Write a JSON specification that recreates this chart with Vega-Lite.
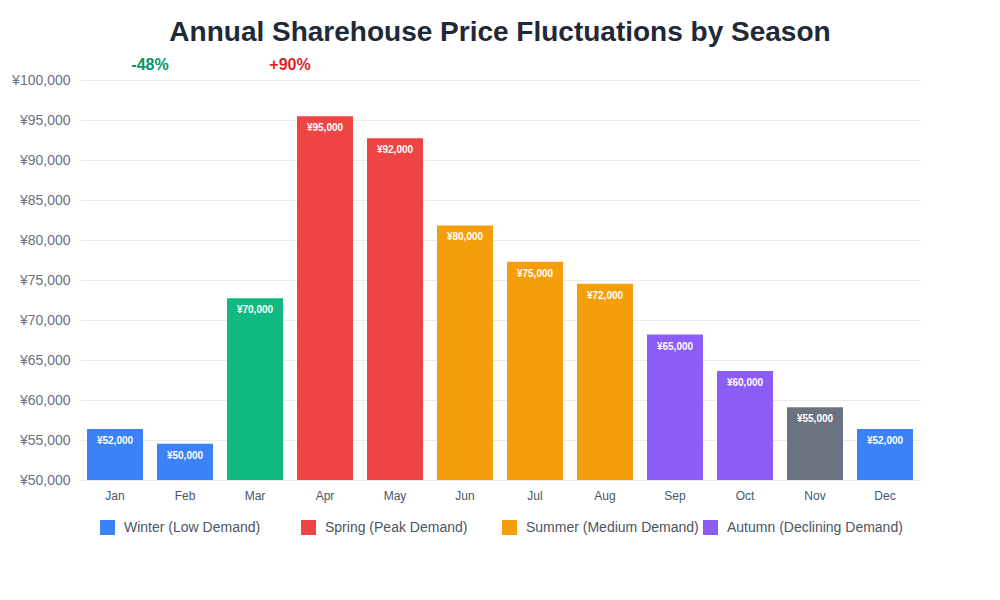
{
  "$schema": "https://vega.github.io/schema/vega-lite/v6.json",
  "width": 840,
  "height": 400,
  "autosize": {"type": "none"},
  "padding": {"left": 80, "top": 80, "right": 80, "bottom": 120},
  "background": "white",
  "title": {
    "text": "Annual Sharehouse Price Fluctuations by Season",
    "fontSize": 28,
    "fontWeight": "bold",
    "color": "#1f2937",
    "font": "Liberation Sans",
    "anchor": "middle",
    "offset": 10
  },
  "config": {"font": "Liberation Sans", "view": {"stroke": null}},
  "datasets": {
    "prices": [
      {"month": "Jan", "price": 52000, "label": "¥52,000", "season": "Winter (Low Demand)"},
      {"month": "Feb", "price": 50000, "label": "¥50,000", "season": "Winter (Low Demand)"},
      {"month": "Mar", "price": 70000, "label": "¥70,000", "season": "Transition (March)"},
      {"month": "Apr", "price": 95000, "label": "¥95,000", "season": "Spring (Peak Demand)"},
      {"month": "May", "price": 92000, "label": "¥92,000", "season": "Spring (Peak Demand)"},
      {"month": "Jun", "price": 80000, "label": "¥80,000", "season": "Summer (Medium Demand)"},
      {"month": "Jul", "price": 75000, "label": "¥75,000", "season": "Summer (Medium Demand)"},
      {"month": "Aug", "price": 72000, "label": "¥72,000", "season": "Summer (Medium Demand)"},
      {"month": "Sep", "price": 65000, "label": "¥65,000", "season": "Autumn (Declining Demand)"},
      {"month": "Oct", "price": 60000, "label": "¥60,000", "season": "Autumn (Declining Demand)"},
      {"month": "Nov", "price": 55000, "label": "¥55,000", "season": "Transition (November)"},
      {"month": "Dec", "price": 52000, "label": "¥52,000", "season": "Winter (Low Demand)"}
    ],
    "annotations": [
      {"month": "Jan", "note": "-48%"},
      {"month": "Mar", "note": "+90%"}
    ]
  },
  "layer": [
    {
      "data": {"name": "annotations"},
      "mark": {"type": "text", "fontSize": 16, "fontWeight": "bold", "baseline": "middle", "dy": 1},
      "encoding": {
        "x": {
          "field": "month",
          "type": "nominal",
          "sort": ["Jan", "Feb", "Mar", "Apr", "May", "Jun", "Jul", "Aug", "Sep", "Oct", "Nov", "Dec"],
          "bandPosition": 1.125,
          "scale": {"paddingInner": 0.2, "paddingOuter": 0.1},
          "axis": {
            "title": null,
            "domain": false,
            "ticks": false,
            "labelAngle": 0,
            "labelFontSize": 12,
            "labelColor": "#4b5563",
            "labelPadding": 10
          }
        },
        "y": {
          "datum": 102000,
          "type": "quantitative",
          "scale": {"domain": [50000, 100000], "zero": false, "nice": false},
          "axis": {
            "title": null,
            "values": [50000, 55000, 60000, 65000, 70000, 75000, 80000, 85000, 90000, 95000, 100000],
            "labelExpr": "'¥' + format(datum.value, ',')",
            "domain": false,
            "ticks": false,
            "labelPadding": 10,
            "labelFontSize": 14,
            "labelColor": "#6b7280",
            "grid": true,
            "gridColor": "#ebebeb",
            "gridWidth": 1
          }
        },
        "text": {"field": "note"},
        "color": {
          "field": "note",
          "type": "nominal",
          "scale": {"domain": ["-48%", "+90%"], "range": ["#059669", "#dc2626"]},
          "legend": null
        }
      }
    },
    {
      "data": {"name": "prices"},
      "encoding": {
        "x": {
          "field": "month",
          "type": "nominal",
          "sort": ["Jan", "Feb", "Mar", "Apr", "May", "Jun", "Jul", "Aug", "Sep", "Oct", "Nov", "Dec"]
        },
        "y": {
          "field": "price",
          "type": "quantitative",
          "scale": {"domain": [45000, 100000], "zero": false, "nice": false},
          "axis": null
        }
      },
      "layer": [
        {
          "mark": {"type": "bar"},
          "encoding": {
            "y2": {"datum": 45000},
            "color": {
              "field": "season",
              "type": "nominal",
              "scale": {
                "domain": ["Winter (Low Demand)", "Spring (Peak Demand)", "Summer (Medium Demand)", "Autumn (Declining Demand)", "Transition (March)", "Transition (November)"],
                "range": ["#3b82f6", "#ef4444", "#f59e0b", "#8b5cf6", "#10b981", "#6b7280"]
              },
              "legend": {
                "title": null,
                "values": ["Winter (Low Demand)", "Spring (Peak Demand)", "Summer (Medium Demand)", "Autumn (Declining Demand)"],
                "orient": "none",
                "legendX": 20,
                "legendY": 440,
                "direction": "horizontal",
                "columns": 4,
                "gridAlign": "all",
                "columnPadding": 1,
                "symbolType": "square",
                "symbolSize": 225,
                "symbolStrokeWidth": 0,
                "labelFontSize": 14,
                "labelColor": "#4b5563",
                "labelOffset": 9,
                "labelLimit": 300
              }
            }
          }
        },
        {
          "mark": {"type": "text", "color": "white", "fontSize": 10, "fontWeight": "bold", "baseline": "middle", "dy": 12},
          "encoding": {"text": {"field": "label"}}
        }
      ]
    }
  ],
  "resolve": {"scale": {"y": "independent", "color": "independent"}}
}
